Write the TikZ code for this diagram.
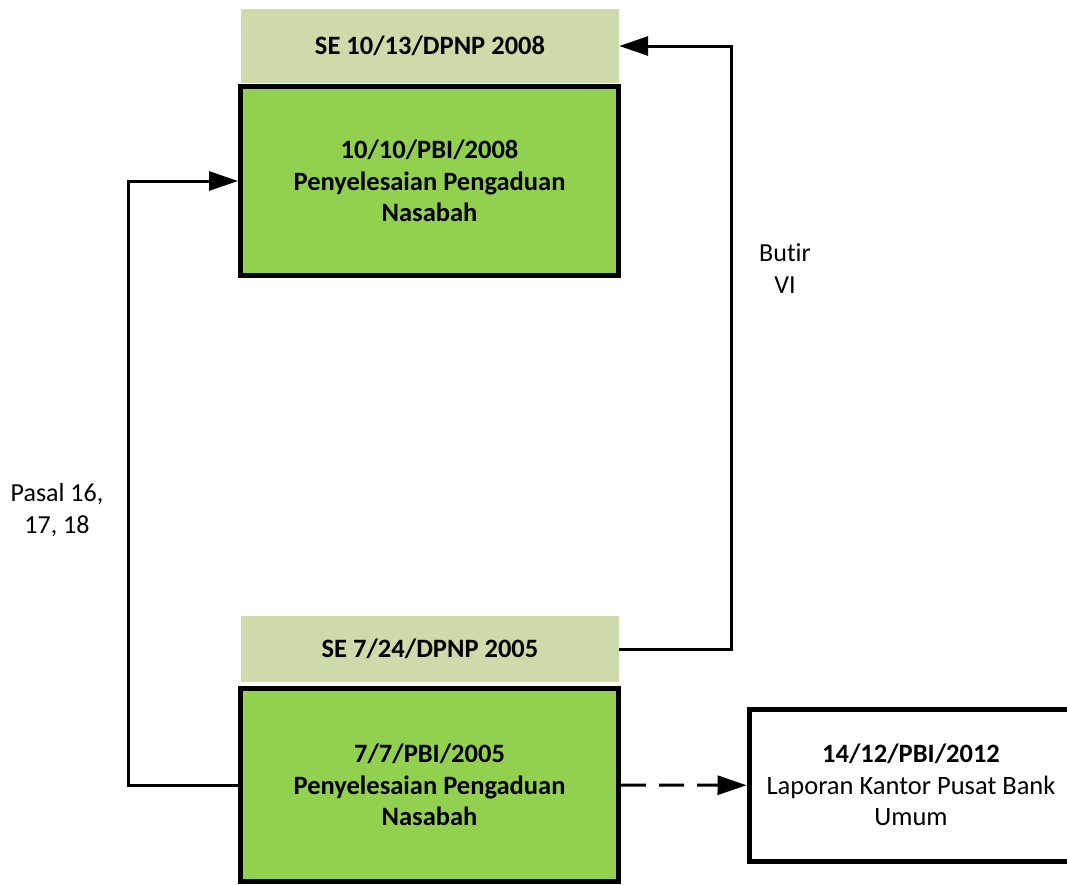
\documentclass[tikz,border=0pt]{standalone}
\usepackage{fontspec}
\setmainfont{Carlito}[Ligatures=NoCommon]
\usetikzlibrary{arrows.meta}
\definecolor{selight}{RGB}{205,219,171}
\definecolor{pbigreen}{RGB}{146,208,80}
\tikzset{
  sebox/.style={fill=selight, minimum width=378pt, inner sep=0pt, font=\fontsize{26.5}{31.5}\selectfont\bfseries},
  pbibox/.style={draw=black, line width=5pt, fill=pbigreen, minimum width=378pt, minimum height=189pt, align=center, inner sep=0pt, font=\fontsize{26.5}{31.5}\selectfont\bfseries},
  whitebox/.style={draw=black, line width=5pt, fill=white, minimum width=324pt, minimum height=152.5pt, align=center, inner sep=0pt, font=\fontsize{26.5}{31.5}\selectfont},
  lbl/.style={align=center, inner sep=0pt, font=\fontsize{26}{32}\selectfont},
  conn/.style={line width=3pt, -{Triangle[length=29pt, width=19pt]}},
}
\begin{document}
\begin{tikzpicture}[x=1pt, y=-1pt]
\clip (0,0) rectangle (1067,884);
\fill[white] (0,0) rectangle (1067,884);
\node[sebox, minimum height=74pt] (se1) at (430,46) {SE 10/13/DPNP 2008};
\node[pbibox] (pbi08) at (429.5,181) {10/10/PBI/2008\\Penyelesaian Pengaduan\\Nasabah};
\node[sebox, minimum height=66pt] (se2) at (430,649) {SE 7/24/DPNP 2005};
\node[pbibox, minimum height=193pt] (pbi05) at (429.5,785) {7/7/PBI/2005\\Penyelesaian Pengaduan\\Nasabah};
\node[whitebox] (pbi12) at (911,785.25) {\textbf{14/12/PBI/2012}\\Laporan Kantor Pusat Bank\\Umum};
\node[lbl] (butir) at (785,269) {Butir\\VI};
\node[lbl] (pasal) at (57,510) {Pasal 16,\\17, 18};
\draw[conn] (pbi05.west) -- ++(-110,0) |- (pbi08.west);
\draw[conn] (se2.east) -- ++(112,0) |- (se1.east);
\draw[conn, dash pattern=on 25pt off 13pt] (pbi05.east) -- (pbi12.west);
\end{tikzpicture}
\end{document}
